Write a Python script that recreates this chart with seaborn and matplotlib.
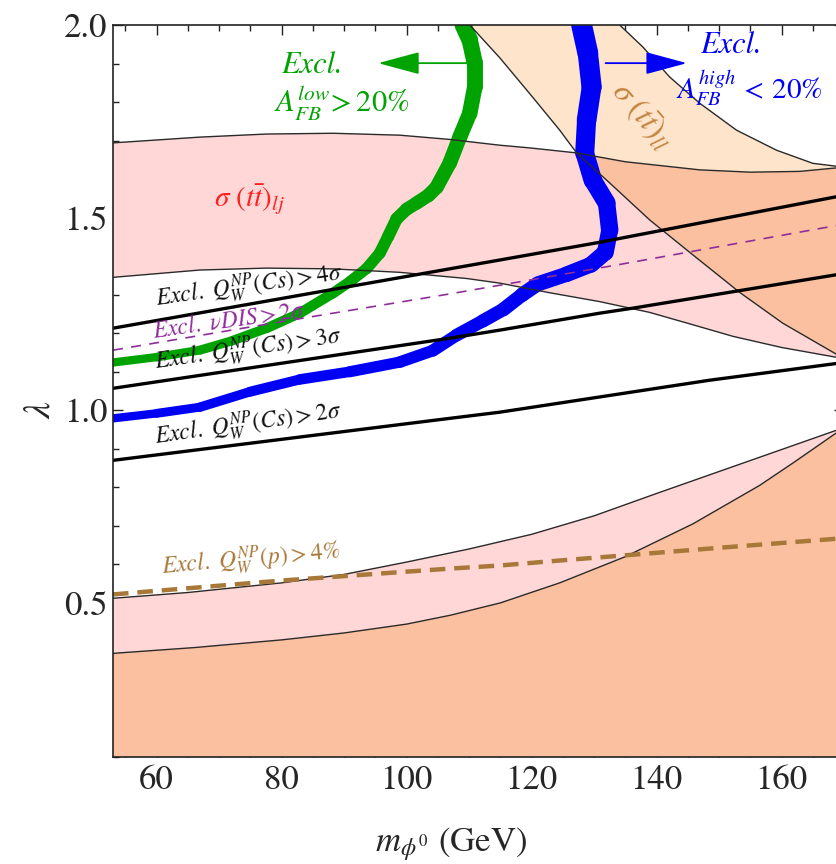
import numpy as np
import pandas as pd
import matplotlib
matplotlib.use("Agg")
import matplotlib.pyplot as plt
import seaborn as sns

# ---------------- data ----------------
# sigma(tt)_lj excluded band (upper part)
lj_upper_x = [53, 66.9, 77.6, 88.2, 98.9, 106.9, 114.9, 119.7, 127.2, 135.0, 146.9, 155.0, 162.9, 170.0]
lj_upper_y = [1.694, 1.709, 1.717, 1.719, 1.714, 1.703, 1.688, 1.681, 1.668, 1.645, 1.624, 1.618, 1.620, 1.631]
lj_lower_x = [53, 66.9, 77.6, 88.2, 98.9, 109.6, 114.9, 122.9, 130.9, 138.9, 145.8, 152.2, 160.0, 170.0]
lj_lower_y = [1.345, 1.364, 1.369, 1.367, 1.358, 1.342, 1.330, 1.305, 1.282, 1.254, 1.222, 1.192, 1.163, 1.134]
# sigma(tt)_ll excluded band (upper right)
ll_left_x = [110.1, 114.9, 120.2, 124.5, 127.2, 132.5, 138.9, 145.3, 153.3, 160.2, 170.0]
ll_left_y = [2.0, 1.915, 1.812, 1.727, 1.668, 1.590, 1.494, 1.410, 1.306, 1.226, 1.134]
ll_right_x = [134.1, 137.8, 142.1, 146.9, 152.8, 159.2, 165.0, 170.0]
ll_right_y = [2.0, 1.943, 1.865, 1.797, 1.727, 1.675, 1.641, 1.631]
# lower bands
low_lj_x = [53, 65, 80, 90, 100, 110, 120, 130, 140, 150, 160, 170.0]
low_lj_y = [0.512, 0.527, 0.552, 0.574, 0.606, 0.640, 0.678, 0.726, 0.784, 0.841, 0.898, 0.955]
low_ll_x = [53, 66, 80, 90, 100, 107, 115, 124.5, 135.0, 145.8, 156.5, 162.0, 170.0]
low_ll_y = [0.369, 0.384, 0.404, 0.422, 0.445, 0.468, 0.500, 0.552, 0.620, 0.705, 0.805, 0.865, 0.955]
# Q_W(Cs) exclusion lines
cs4_x = [53, 114.9, 130.9, 170.0]
cs4_y = [1.213, 1.390, 1.436, 1.558]
cs3_x = [53, 106.9, 114.9, 130.9, 136.2, 170.0]
cs3_y = [1.057, 1.187, 1.208, 1.252, 1.265, 1.355]
cs2_x = [53, 106.9, 114.9, 148.5, 170.0]
cs2_y = [0.870, 0.979, 0.995, 1.078, 1.124]
# nu DIS line
nudis_x = [53, 80, 106.9, 133.6, 170.0]
nudis_y = [1.156, 1.230, 1.302, 1.377, 1.483]
# Q_W(p) line
qp_x = [53, 80, 106.9, 114.9, 124.5, 134.6, 150.0, 170.0]
qp_y = [0.522, 0.558, 0.589, 0.597, 0.610, 0.623, 0.643, 0.668]
# A_FB contours
afb_low_x = [53, 60, 66.9, 72, 77.6, 82.9, 88.2, 91, 93.6, 95.7, 97.0, 98.4, 100, 101.6,
             103.5, 104.8, 106.9, 108.5, 110.1, 110.9, 110.9, 110.1, 109.0]
afb_low_y = [1.124, 1.138, 1.156, 1.180, 1.213, 1.252, 1.304, 1.335, 1.368, 1.408, 1.450, 1.497, 1.522, 1.538,
             1.558, 1.579, 1.642, 1.709, 1.771, 1.839, 1.901, 1.961, 2.0]
afb_high_x = [53, 60, 66.9, 74.9, 82.9, 90.9, 98.9, 104.2, 108, 112.2, 115.5, 118.5, 121.0, 125.6,
              129.5, 131.8, 132.5, 132.0, 129.8, 128.5, 128.8, 129.6, 129.0, 128.0]
afb_high_y = [0.979, 0.992, 1.008, 1.048, 1.080, 1.100, 1.125, 1.155, 1.195, 1.232, 1.262, 1.300, 1.328, 1.353,
              1.378, 1.410, 1.468, 1.538, 1.597, 1.668, 1.753, 1.839, 1.927, 2.0]

x_major = [60, 80, 100, 120, 140, 160]
y_major = [0.5, 1.0, 1.5, 2.0]

# ---------------- style ----------------
sns.set_theme(style="ticks")
plt.rcParams["font.family"] = ["STIXGeneral", "DejaVu Serif"]
plt.rcParams["mathtext.fontset"] = "stix"

PINK = "#FFD7D7"
PEACH = "#FDE4CB"
SALMON = "#FBC0A0"
GREEN = "#00A300"
BLUE = "#0000F5"
BROWN = "#A87838"
PURPLE = "#8E2E9A"

fig = plt.figure(figsize=(8.37, 8.64), dpi=100)
ax = fig.add_axes([113 / 837, 107 / 864, 731 / 837, 732 / 864])
ax.set_xlim(53, 170)
ax.set_ylim(0.1, 2.0)

# ---------------- filled regions ----------------
ux, uy = np.array(lj_upper_x), np.array(lj_upper_y)
lx, ly = np.array(lj_lower_x), np.array(lj_lower_y)
ax.fill(np.r_[ux, lx[::-1]], np.r_[uy, ly[::-1]], color=PINK, lw=0, zorder=1)

ax_, ay_ = np.array(ll_left_x), np.array(ll_left_y)
bx, by = np.array(ll_right_x), np.array(ll_right_y)
ax.fill(np.r_[ax_, bx[::-1]], np.r_[ay_, by[::-1]], color=PEACH, lw=0, zorder=1)

ma = ax_ >= 127.2
mu = ux >= 127.2
ax.fill(np.r_[ax_[ma], ux[mu][::-1]], np.r_[ay_[ma], uy[mu][::-1]], color=SALMON, lw=0, zorder=1.1)

cx, cy = np.array(low_lj_x), np.array(low_lj_y)
dx, dy = np.array(low_ll_x), np.array(low_ll_y)
ax.fill(np.r_[cx, dx[::-1]], np.r_[cy, dy[::-1]], color=PINK, lw=0, zorder=1)
ax.fill(np.r_[dx, 170, 53], np.r_[dy, 0.1, 0.1], color=SALMON, lw=0, zorder=1)

# ---------------- A_FB bands ----------------
def band(xs, ys, w0, w1, color):
    n = len(xs) - 1
    ws = np.linspace(w0, w1, n)
    for i in range(n):
        ax.plot(xs[i:i + 2], ys[i:i + 2], color=color, lw=ws[i],
                solid_capstyle="round", solid_joinstyle="round", zorder=2)

band(afb_low_x, afb_low_y, 6, 12, GREEN)
band(afb_high_x, afb_high_y, 6, 15, BLUE)

# ---------------- boundary lines ----------------
for bxs, bys in [(lj_upper_x, lj_upper_y), (lj_lower_x, lj_lower_y),
                 (ll_left_x, ll_left_y), (ll_right_x, ll_right_y),
                 (low_lj_x, low_lj_y), (low_ll_x, low_ll_y)]:
    sns.lineplot(x=bxs, y=bys, ax=ax, color="#2a2a2a", lw=1.0, sort=False, zorder=3)

for lxs, lys in [(cs4_x, cs4_y), (cs3_x, cs3_y), (cs2_x, cs2_y)]:
    sns.lineplot(x=lxs, y=lys, ax=ax, color="black", lw=2.4, zorder=4)

sns.lineplot(x=nudis_x, y=nudis_y, ax=ax, color=PURPLE, lw=1.2, zorder=4,
             linestyle=(0, (6, 5)))
sns.lineplot(x=qp_x, y=qp_y, ax=ax, color=BROWN, lw=3.2, zorder=4,
             linestyle=(0, (3.5, 2)))

# ---------------- arrows ----------------
ax.annotate("", xy=(95.0, 1.901), xytext=(110.9, 1.901),
            arrowprops=dict(arrowstyle="-|>,head_length=1.3,head_width=0.35",
                            color=GREEN, lw=1.3, mutation_scale=20), zorder=5)
ax.annotate("", xy=(145.3, 1.901), xytext=(131.4, 1.901),
            arrowprops=dict(arrowstyle="-|>,head_length=1.3,head_width=0.35",
                            color=BLUE, lw=1.3, mutation_scale=20), zorder=5)

# ---------------- texts ----------------
ax.text(84.8, 1.896, "Excl.", color=GREEN, fontsize=22, style="italic",
        ha="center", va="center", zorder=6)
ax.text(89.6, 1.800, r"$A_{FB}^{low}\!>\mathit{20\%}$", color=GREEN, fontsize=22,
        ha="center", va="center", zorder=6)
ax.text(151.9, 1.948, "Excl.", color=BLUE, fontsize=22, style="italic",
        ha="center", va="center", zorder=6)
ax.text(154.9, 1.836, r"$A_{FB}^{high}\,<\,\mathit{20\%}$", color=BLUE, fontsize=21,
        ha="center", va="center", zorder=6)
ax.text(137.6, 1.763, r"$\sigma\ (t\bar{t})_{ll}$", color="#C48440", fontsize=23,
        rotation=-50, ha="center", va="center", rotation_mode="anchor", zorder=6)
ax.text(74.9, 1.545, r"$\sigma\ (t\bar{t})_{lj}$", color="#FF2020", fontsize=21,
        ha="center", va="center", zorder=6)

rot = 8
ax.text(74.8, 1.319, r"$Excl.\ Q_W^{NP}(Cs){>}4\sigma$", color="#111111", fontsize=17,
        rotation=rot, ha="center", va="center", rotation_mode="anchor", zorder=6)
ax.text(71.6, 1.229, r"$Excl.\ \nu DIS > 2\sigma$", color=PURPLE, fontsize=17,
        rotation=rot, ha="center", va="center", rotation_mode="anchor", zorder=6)
ax.text(74.6, 1.156, r"$Excl.\ Q_W^{NP}(Cs){>}3\sigma$", color="#111111", fontsize=17,
        rotation=rot, ha="center", va="center", rotation_mode="anchor", zorder=6)
ax.text(74.6, 0.961, r"$Excl.\ Q_W^{NP}(Cs){>}2\sigma$", color="#111111", fontsize=17,
        rotation=rot, ha="center", va="center", rotation_mode="anchor", zorder=6)
ax.text(75.1, 0.610, r"$Excl.\ Q_W^{NP}(p){>}4\%$", color=BROWN, fontsize=17,
        rotation=5, ha="center", va="center", rotation_mode="anchor", zorder=6)

# ---------------- axes ----------------
ax.set_xticks(x_major)
ax.set_xticks(np.arange(55, 170, 5), minor=True)
ax.set_yticks(y_major)
ax.set_yticks(np.arange(0.1, 2.0, 0.1), minor=True)
ax.set_yticklabels([f"{v:.1f}" for v in y_major])
ax.tick_params(which="both", direction="in", top=True, right=True,
               width=1.0, color="#222222", labelsize=25)
ax.tick_params(which="major", length=7)
ax.tick_params(which="minor", length=4.5)
ax.tick_params(axis="x", pad=6)
ax.tick_params(axis="y", pad=4)
for s in ax.spines.values():
    s.set_linewidth(1.2)
    s.set_color("#222222")
    s.set_zorder(10)

ax.set_xlabel(r"$m_{\phi^0}$ (GeV)", fontsize=25)
ax.xaxis.set_label_coords(0.462, -0.119)
ax.xaxis.label.set_va("center")
ax.set_ylabel(r"$\lambda$", fontsize=27)
ax.yaxis.set_label_coords(-0.1, 0.474)
ax.yaxis.label.set_va("center")

fig.savefig("out.png", dpi=100)
